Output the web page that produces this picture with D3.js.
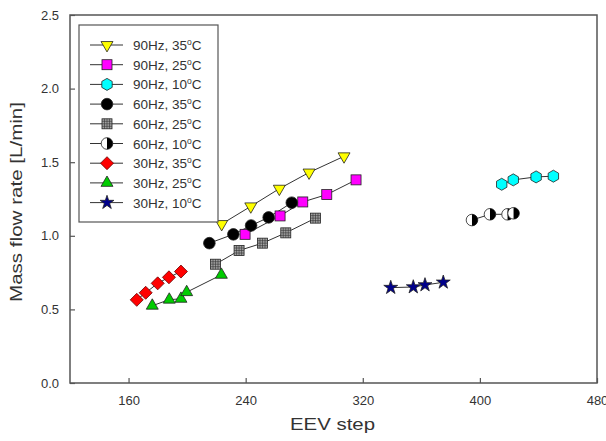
<!DOCTYPE html>
<html>
<head>
<meta charset="utf-8">
<script src="https://cdn.jsdelivr.net/npm/d3@7"></script>
<style>
  body { margin: 0; background: #fff; }
  text { font-family: "Liberation Sans", Arial, sans-serif; fill: #333; }
</style>
</head>
<body>
<div id="chart"></div>
<script>
(function () {
    'use strict';

    // data
    const xTicks = [160, 240, 320, 400, 480];
    const yTicks = [0.0, 0.5, 1.0, 1.5, 2.0, 2.5];

    const s90_35 = [[223.6, 1.08], [243.5, 1.20], [263, 1.32], [283.3, 1.43], [307.2, 1.54]];
    const s90_25 = [[239.6, 1.01], [263.5, 1.135], [279, 1.23], [295.4, 1.28], [315.4, 1.38]];
    const s90_10 = [[414.9, 1.35], [422.8, 1.38], [438.4, 1.40], [450.2, 1.405]];
    const s60_35 = [[215.2, 0.95], [231.6, 1.01], [243.7, 1.07], [255.7, 1.125], [271.5, 1.225]];
    const s60_25 = [[219.4, 0.807], [235.5, 0.90], [251.5, 0.95], [267.4, 1.02], [287.7, 1.12]];
    const s60_10 = [[394.6, 1.107], [406.9, 1.146], [418.9, 1.146], [423, 1.153]];
    const s30_35 = [[165.6, 0.565], [171.7, 0.613], [179.9, 0.677], [187.6, 0.718], [195.8, 0.757]];
    const s30_25 = [[176.2, 0.525], [187.8, 0.566], [195.8, 0.572], [199.7, 0.617], [223.4, 0.735]];
    const s30_10 = [[339.1, 0.648], [354.5, 0.652], [362.5, 0.666], [375, 0.684]];

    const series = [
        { label: '90Hz, 35', data: s90_35, marker: 'triDown', color: '#ffff00' },
        { label: '90Hz, 25', data: s90_25, marker: 'square', color: '#ff00ff' },
        { label: '90Hz, 10', data: s90_10, marker: 'hexagon', color: '#00ffff' },
        { label: '60Hz, 35', data: s60_35, marker: 'circle', color: '#000000' },
        { label: '60Hz, 25', data: s60_25, marker: 'grid', color: '#a0a0a0' },
        { label: '60Hz, 10', data: s60_10, marker: 'half', color: '#000000' },
        { label: '30Hz, 35', data: s30_35, marker: 'diamond', color: '#ff0000' },
        { label: '30Hz, 25', data: s30_25, marker: 'triUp', color: '#00cc00' },
        { label: '30Hz, 10', data: s30_10, marker: 'star', color: '#00008b' }
    ];

    const W = 606, H = 441;
    const margin = { top: 15, right: 9, bottom: 58, left: 70 };
    const width = W - margin.left - margin.right;
    const height = H - margin.top - margin.bottom;

    const svg = d3.select('#chart').append('svg')
        .attr('width', W).attr('height', H)
        .append('g')
        .attr('transform', 'translate(' + margin.left + ',' + margin.top + ')');

    const xScale = d3.scaleLinear().domain([120, 480]).range([0, width]);
    const yScale = d3.scaleLinear().domain([0, 2.5]).range([height, 0]);

    const frameColor = '#555';

    const xAxis = d3.axisBottom(xScale).tickValues(xTicks).tickSizeInner(-5).tickSizeOuter(0).tickPadding(13);
    const yAxis = d3.axisLeft(yScale).tickValues(yTicks).tickSizeInner(-5).tickSizeOuter(0).tickPadding(11)
        .tickFormat(d3.format('.1f'));

    const gx = svg.append('g').attr('transform', 'translate(0,' + height + ')').call(xAxis);
    const gy = svg.append('g').call(yAxis);
    [gx, gy].forEach(function (g) {
        g.select('.domain').remove();
        g.selectAll('line').attr('stroke', frameColor).attr('stroke-width', 1.2);
        g.selectAll('text').style('font-size', '13px').style('fill', '#333')
            .style('font-family', '"Liberation Sans", Arial, sans-serif');
    });

    svg.append('rect').attr('x', 0).attr('y', 0).attr('width', width).attr('height', height)
        .attr('fill', 'none').attr('stroke', frameColor).attr('stroke-width', 1.5);

    svg.append('text').attr('x', width / 2 - 1).attr('y', height + 47)
        .attr('text-anchor', 'middle').style('font-size', '17px')
        .attr('textLength', 85).attr('lengthAdjust', 'spacingAndGlyphs').text('EEV step');
    svg.append('text').attr('transform', 'rotate(-90)')
        .attr('x', -187).attr('y', -48)
        .attr('text-anchor', 'middle').style('font-size', '17px')
        .attr('textLength', 200).attr('lengthAdjust', 'spacingAndGlyphs').text('Mass flow rate [L/min]');

    function hexPath(r) {
        const pts = d3.range(6).map(function (i) {
            const a = Math.PI / 6 + i * Math.PI / 3;
            return [r * Math.cos(a), r * Math.sin(a)];
        });
        return 'M' + pts.join('L') + 'Z';
    }

    function drawMarker(g, type, color) {
        const st = '#222';
        if (type === 'triDown') {
            g.append('path').attr('d', d3.symbol(d3.symbolTriangle, 62)()).attr('transform', 'rotate(180)')
                .attr('fill', color).attr('stroke', st).attr('stroke-width', 0.8);
        } else if (type === 'triUp') {
            g.append('path').attr('d', d3.symbol(d3.symbolTriangle, 62)())
                .attr('fill', color).attr('stroke', st).attr('stroke-width', 0.8);
        } else if (type === 'square') {
            g.append('rect').attr('x', -5).attr('y', -5).attr('width', 10).attr('height', 10)
                .attr('fill', color).attr('stroke', st).attr('stroke-width', 0.8);
        } else if (type === 'grid') {
            g.append('rect').attr('x', -5).attr('y', -5).attr('width', 10).attr('height', 10)
                .attr('fill', color).attr('stroke', st).attr('stroke-width', 0.8);
            g.append('path').attr('d', 'M-5,0H5M0,-5V5M-5,-2.5H5M-5,2.5H5M-2.5,-5V5M2.5,-5V5')
                .attr('stroke', '#333').attr('stroke-width', 0.6);
        } else if (type === 'hexagon') {
            g.append('path').attr('d', hexPath(6))
                .attr('fill', color).attr('stroke', st).attr('stroke-width', 0.8);
        } else if (type === 'circle') {
            g.append('circle').attr('r', 5.8).attr('fill', color).attr('stroke', st).attr('stroke-width', 0.8);
        } else if (type === 'half') {
            g.append('circle').attr('r', 5.8).attr('fill', '#fff').attr('stroke', st).attr('stroke-width', 0.8);
            g.append('path').attr('d', 'M0,-5.8A5.8,5.8 0 0 1 0,5.8Z').attr('fill', '#000');
        } else if (type === 'diamond') {
            g.append('path').attr('d', 'M0,-6.5L6.5,0L0,6.5L-6.5,0Z')
                .attr('fill', color).attr('stroke', '#600').attr('stroke-width', 0.8);
        } else if (type === 'star') {
            g.append('path').attr('d', d3.symbol(d3.symbolStar, 60)())
                .attr('fill', color).attr('stroke', st).attr('stroke-width', 0.8);
        }
    }

    const line = d3.line()
        .x(function (d) { return xScale(d[0]); })
        .y(function (d) { return yScale(d[1]); });

    series.forEach(function (s) {
        svg.append('path').datum(s.data).attr('d', line)
            .attr('fill', 'none').attr('stroke', '#333').attr('stroke-width', 1);
    });
    series.forEach(function (s) {
        svg.selectAll(null).data(s.data).enter().append('g')
            .attr('transform', function (d) { return 'translate(' + xScale(d[0]) + ',' + yScale(d[1]) + ')'; })
            .each(function () { drawMarker(d3.select(this), s.marker, s.color); });
    });

    // legend
    const lg = svg.append('g').attr('transform', 'translate(9,10)');
    lg.append('rect').attr('width', 139).attr('height', 197)
        .attr('fill', '#fff').attr('stroke', frameColor).attr('stroke-width', 1.2);
    series.forEach(function (s, i) {
        const row = lg.append('g').attr('transform', 'translate(0,' + (20 + i * 19.7) + ')');
        row.append('line').attr('x1', 11).attr('x2', 44).attr('y1', 0).attr('y2', 0)
            .attr('stroke', '#333').attr('stroke-width', 1);
        drawMarker(row.append('g').attr('transform', 'translate(28,0)'), s.marker, s.color);
        const t = row.append('text').attr('x', 54).attr('y', 5).style('font-size', '13.5px');
        t.append('tspan').text(s.label);
        t.append('tspan').attr('dy', -5).style('font-size', '8.5px').text('o');
        t.append('tspan').attr('dy', 5).text('C');
    });
}());
</script>
</body>
</html>
